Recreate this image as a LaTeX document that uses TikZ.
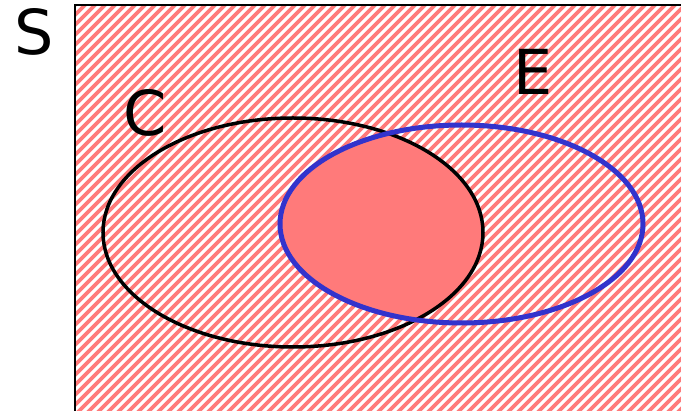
\documentclass[tikz,border=0pt]{standalone}
\usepackage{fontspec}
\setmainfont{DejaVu Sans}
\usepackage{tikz}
\usetikzlibrary{positioning}
\definecolor{hatchred}{RGB}{255,122,122}
\definecolor{setblue}{RGB}{51,51,204}

\begin{document}
\begin{tikzpicture}[x=1pt, y=-1pt,
    setlabel/.style={font=\fontsize{62}{62}\selectfont, inner sep=0pt}]
  \useasboundingbox (0,0) rectangle (681,411);
  \clip (0,0) rectangle (681,411);
  \coordinate (cC) at (293,232.5);
  \coordinate (cE) at (461.5,224);
  % hatched sample space
  \begin{scope}
    \clip (75,5) rectangle (700,430);
    \foreach \k in {70,80,...,1110}
      \draw[hatchred, line width=3.6pt] (\k,0) -- ++(-460,460);
  \end{scope}
  % C and E overlap
  \begin{scope}
    \clip (cC) ellipse [x radius=190pt, y radius=114.5pt];
    \fill[hatchred] (cE) ellipse [x radius=181.5pt, y radius=99pt];
  \end{scope}
  \draw[line width=2pt] (75,5) rectangle (700,430);
  \draw[line width=3.5pt] (cC) ellipse [x radius=190pt, y radius=114.5pt];
  \draw[setblue, line width=5pt] (cE) ellipse [x radius=181.5pt, y radius=99pt];
  \node[setlabel] (S) at (34,32) {S};
  \node[setlabel] (C) at (145,113) {C};
  \node[setlabel] (E) at (533,72) {E};
\end{tikzpicture}
\end{document}
